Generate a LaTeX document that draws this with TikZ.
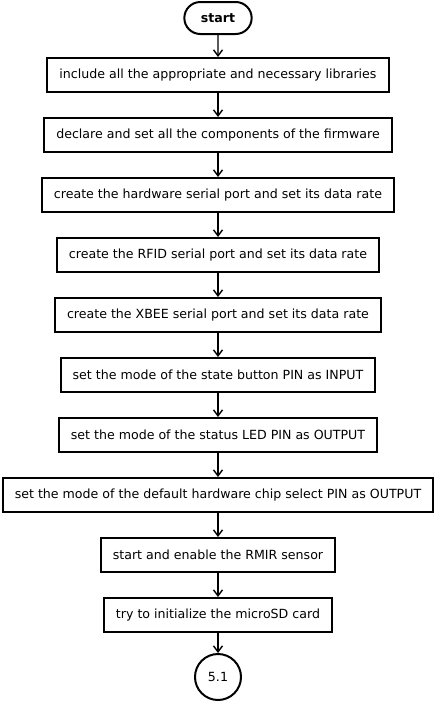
\documentclass[tikz,border=0pt]{standalone}
\usepackage{fontspec}
\setmainfont{DejaVu Sans}
\usetikzlibrary{arrows.meta,positioning,shapes.misc}
\tikzset{
  >={Straight Barb[length=6pt,width=9pt,line width=1.4pt]},
  procbox/.style={draw,line width=2pt,minimum height=34pt,inner xsep=12pt,
    font=\fontsize{12.6}{15}\selectfont},
  terminal/.style={draw,line width=2pt,rounded rectangle,minimum width=74pt,
    minimum height=32pt,font=\fontsize{12.6}{15}\selectfont\bfseries},
  connector/.style={draw,circle,line width=2pt,minimum size=46pt,
    font=\fontsize{12.6}{15}\selectfont},
  flow/.style={->,line width=1.4pt},
}

\begin{document}
\begin{tikzpicture}[node distance=24pt]
  \useasboundingbox (0,0) rectangle (436pt,-704pt);
  \node[terminal] (start) at (218pt,-18pt) {start};
  \node[procbox,below=22pt of start] (s1) {include all the appropriate and necessary libraries};
  \node[procbox,below=of s1] (s2) {declare and set all the components of the firmware};
  \node[procbox,below=of s2] (s3) {create the hardware serial port and set its data rate};
  \node[procbox,below=of s3] (s4) {create the RFID serial port and set its data rate};
  \node[procbox,below=of s4] (s5) {create the XBEE serial port and set its data rate};
  \node[procbox,below=of s5] (s6) {set the mode of the state button PIN as INPUT};
  \node[procbox,below=of s6] (s7) {set the mode of the status LED PIN as OUTPUT};
  \node[procbox,below=of s7] (s8) {set the mode of the default hardware chip select PIN as OUTPUT};
  \node[procbox,below=of s8] (s9) {start and enable the RMIR sensor};
  \node[procbox,below=of s9] (s10) {try to initialize the microSD card};
  \node[connector,below=20pt of s10] (c51) {5.1};
  % arrows
  \draw[flow] (start) -- (s1);
  \foreach \a/\b in {s1/s2,s2/s3,s3/s4,s4/s5,s5/s6,s6/s7,s7/s8,s8/s9,s9/s10,s10/c51}
    \draw[flow] (\a) -- (\b);
\end{tikzpicture}
\end{document}
